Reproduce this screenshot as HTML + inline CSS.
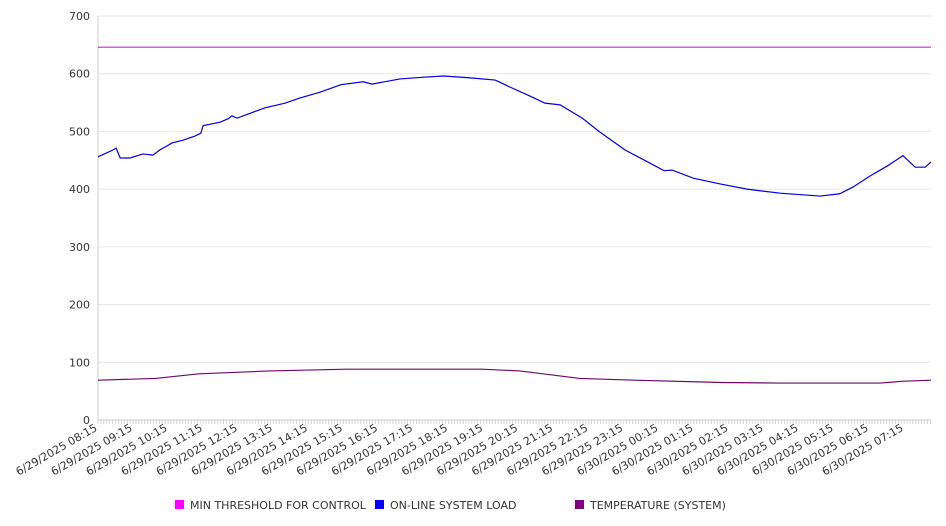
<!DOCTYPE html>
<html><head><meta charset="utf-8"><style>
body{margin:0;background:#fff;}
svg{display:block;font-family:"DejaVu Sans","Liberation Sans",sans-serif;}
</style></head><body>
<svg id="chart" width="946" height="526"></svg>
<script>
const yTicks=[0,100,200,300,400,500,600,700];
const xLabels=["6/29/2025 08:15","6/29/2025 09:15","6/29/2025 10:15","6/29/2025 11:15","6/29/2025 12:15","6/29/2025 13:15","6/29/2025 14:15","6/29/2025 15:15","6/29/2025 16:15","6/29/2025 17:15","6/29/2025 18:15","6/29/2025 19:15","6/29/2025 20:15","6/29/2025 21:15","6/29/2025 22:15","6/29/2025 23:15","6/30/2025 00:15","6/30/2025 01:15","6/30/2025 02:15","6/30/2025 03:15","6/30/2025 04:15","6/30/2025 05:15","6/30/2025 06:15","6/30/2025 07:15"];
const thresholdValue=646;
const loadMinutes=[0,26,31,38,55,77,94,106,127,146,166,176,180,209,223,229,238,257,286,320,346,380,416,454,469,517,558,592,635,680,705,740,765,791,829,859,902,945,969,983,1019,1065,1111,1168,1236,1270,1293,1322,1351,1378,1399,1416,1426];
const loadValues=[456,468,471,454,454,461,459,468,480,485,492,497,510,516,522,527,523,530,541,549,558,568,581,586,582,591,594,596,593,589,577,561,549,546,523,499,468,445,432,433,419,409,400,393,388,392,404,423,440,458,438,438,447];
const tempMinutes=[0,98,173,294,425,657,722,825,919,1068,1168,1339,1376,1426];
const tempValues=[69,72,80,85,88,88,85,72,69,65,64,64,67,69];

const NS="http://www.w3.org/2000/svg";
const svg=document.getElementById('chart');
const X0=98,X1=931,Y0=420,Y1=16,TMAX=1426;
const xs=m=>X0+m*(X1-X0)/TMAX;
const ys=v=>Y0-v*(Y0-Y1)/700;
function mk(t,a,p){const e=document.createElementNS(NS,t);for(const k in a)e.setAttribute(k,a[k]);(p||svg).appendChild(e);return e;}

const grid=mk('g',{});


yTicks.forEach(v=>{
  if(v>0){const l=mk('line',{x1:X0,x2:X1,y1:ys(v),y2:ys(v),stroke:'#e6e6e6','stroke-width':1},grid);
  
  }
  const t=mk('text',{x:90,y:ys(v)+4,'text-anchor':'end','font-size':11,fill:'#333'});
  t.textContent=v;
  
  
});
const ax=mk('line',{x1:X0,x2:X0,y1:Y1,y2:Y0,stroke:'#ccc'});


const bx=mk('line',{x1:X0,x2:X1,y1:Y0,y2:Y0,stroke:'#ccc'});


const ticks=mk('g',{});


for(let m=0;m<=TMAX;m+=5){mk('line',{x1:xs(m),x2:xs(m),y1:Y0,y2:Y0+4,stroke:'#ccc','stroke-width':0.8},ticks);}
xLabels.forEach((s,i)=>{
  const x=xs(i*60);
  const t=mk('text',{x:x,y:Y0+10,'text-anchor':'end','font-size':11,fill:'#333',transform:`rotate(-30 ${x} ${Y0+10})`});
  t.textContent=s;
  
  
});
const th=mk('line',{x1:X0,x2:X1,y1:ys(thresholdValue),y2:ys(thresholdValue),stroke:'#d020d0','stroke-width':1.2});


function series(mins,vals,color,name){
  const p=mk('polyline',{points:mins.map((m,i)=>xs(m)+','+ys(vals[i])).join(' '),fill:'none',stroke:color,'stroke-width':1.2});
  
  
}
series(loadMinutes,loadValues,'#0000dd','system-load-line');
series(tempMinutes,tempValues,'#6a0a6a','temperature-line');

const legend=[["MIN THRESHOLD FOR CONTROL","#ff00ff",175],["ON-LINE SYSTEM LOAD","#0000ff",375],["TEMPERATURE (SYSTEM)","#800080",575]];
legend.forEach(([s,c,x])=>{
  const g=mk('g',{});
  
  
  mk('rect',{x:x,y:500,width:9,height:9,fill:c},g);
  const t=mk('text',{x:x+15,y:509,'font-size':11,fill:'#333'},g);
  t.textContent=s;
});
</script>
</body></html>
